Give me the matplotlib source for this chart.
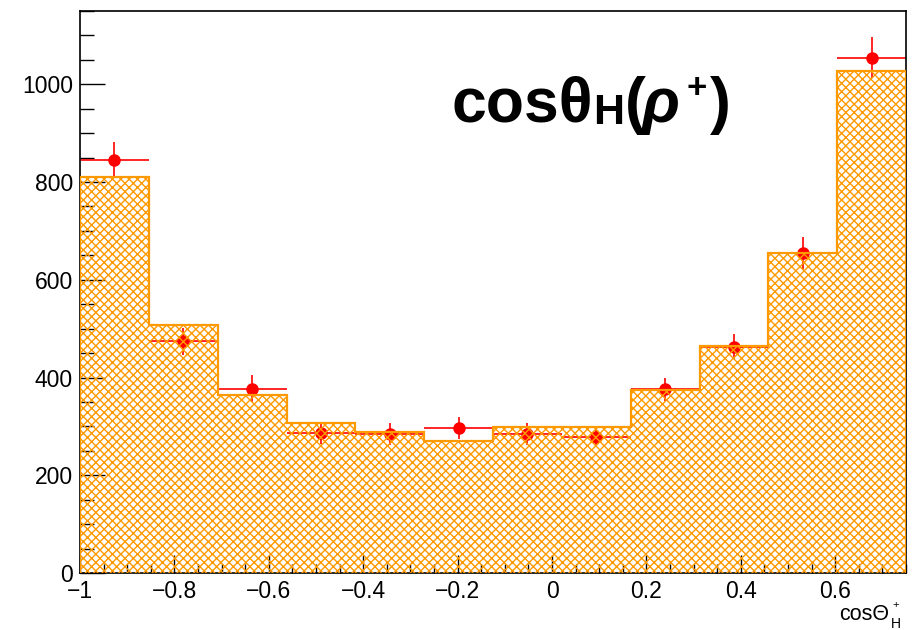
import numpy as np
import matplotlib
import matplotlib.pyplot as plt
from matplotlib.ticker import MultipleLocator, FuncFormatter

matplotlib.use('agg')

# histogram (expected) and data points, 12 bins over [-1, 0.75]
bin_edges = np.linspace(-1.0, 0.75, 13)
hist_counts = [810, 508, 365, 307, 288, 271, 298, 298, 374, 464, 655, 1027]
data_counts = [845, 474, 377, 287, 284, 297, 284, 279, 376, 463, 655, 1054]
data_errors = [36, 27, 28, 23, 22, 22, 22, 22, 24, 26, 32, 42]

orange = '#ff9900'
red = '#ff0000'

plt.rcParams['font.family'] = ['Liberation Sans', 'DejaVu Sans']
plt.rcParams['hatch.linewidth'] = 1.0

W, H = 919, 630
fig = plt.figure(figsize=(W / 100, H / 100), dpi=100)
ax = fig.add_axes([80 / W, 1 - 573 / H, 826 / W, 562 / H])

centers = 0.5 * (bin_edges[:-1] + bin_edges[1:])
widths = np.diff(bin_edges)

ax.errorbar(centers, data_counts, xerr=widths / 2, yerr=data_errors, fmt='o',
            color=red, ms=8, elinewidth=1.2, capsize=0, zorder=2)
ax.bar(bin_edges[:-1], hist_counts, width=widths, align='edge', facecolor='none',
       edgecolor=orange, linewidth=0, hatch='xxxx', zorder=3)
ax.stairs(hist_counts, bin_edges, color=orange, linewidth=1.6, baseline=0, zorder=3)

ax.set_xlim(-1.0, 0.75)
ax.set_ylim(0, 1150)
ax.set_axisbelow(True)


def root_fmt(v, pos):
    return ('%g' % round(v, 6)).replace('-', '\u2212')


ax.xaxis.set_major_locator(MultipleLocator(0.2))
ax.xaxis.set_minor_locator(MultipleLocator(0.05))
ax.yaxis.set_major_locator(MultipleLocator(200))
ax.yaxis.set_minor_locator(MultipleLocator(50))
ax.xaxis.set_major_formatter(FuncFormatter(root_fmt))
ax.yaxis.set_major_formatter(FuncFormatter(root_fmt))
ax.tick_params(axis='both', which='both', direction='in', top=False, right=False,
               labelsize=16.5, width=1.0, color='black')
ax.tick_params(axis='x', which='major', length=13, pad=5)
ax.tick_params(axis='x', which='minor', length=6.5)
ax.tick_params(axis='y', which='major', length=18, pad=5)
ax.tick_params(axis='y', which='minor', length=10)

for s in ax.spines.values():
    s.set_linewidth(1.2)
    s.set_color('black')

# x axis label cos(Theta)_H^+ at the lower right
fig.text(889 / W, 1 - 620 / H, 'cos\u0398', fontsize=15.5, ha='right', va='baseline')
fig.text(891 / W, 1 - 628 / H, 'H', fontsize=10, ha='left', va='baseline')
fig.text(892 / W, 1 - 608 / H, '+', fontsize=8, ha='left', va='baseline')

# big label cos(theta)_H(rho+), built from pieces
fig.text(451 / W, 1 - 122 / H, 'cos\u03b8', fontsize=45, fontweight='bold',
         ha='left', va='baseline')
fig.text(593 / W, 1 - 124 / H, 'H', fontsize=31, fontweight='bold',
         ha='left', va='baseline')
fig.text(625 / W, 1 - 122 / H, '(', fontsize=45, fontweight='bold',
         ha='left', va='baseline')
fig.text(641 / W, 1 - 122 / H, '\u03c1', fontsize=45, fontweight='bold',
         style='italic', ha='left', va='baseline')
fig.text(686 / W, 1 - 98 / H, '+', fontsize=25, fontweight='bold',
         ha='left', va='baseline')
fig.text(710 / W, 1 - 122 / H, ')', fontsize=45, fontweight='bold',
         ha='left', va='baseline')

fig.savefig('out.png', dpi=100)
